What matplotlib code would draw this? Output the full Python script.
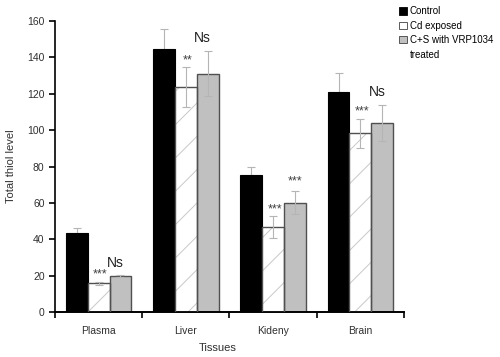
import numpy as np
import matplotlib
matplotlib.use("Agg")
import matplotlib.pyplot as plt
from matplotlib.patches import Patch
from matplotlib.ticker import FixedLocator

# Datos
tissues = ["Plasma", "Liver", "Kideny", "Brain"]
control = [43.6, 144.8, 75.4, 121.0]
control_err = [2.5, 11.0, 4.5, 10.7]
cd_exposed = [15.7, 123.7, 46.8, 98.4]
cd_err = [1.0, 11.0, 6.0, 8.0]
treated = [19.9, 131.1, 60.1, 104.0]
treated_err = [0.4, 12.5, 6.4, 10.0]
cd_marks = ["***", "**", "***", "***"]
treated_marks = ["Ns", "Ns", "***", "Ns"]

plt.rcParams['font.family'] = ['Liberation Sans', 'DejaVu Sans']
plt.rcParams['hatch.linewidth'] = 0.7
plt.rcParams['hatch.color'] = '#c8c8c8'

fig = plt.figure(figsize=(5, 3.57), dpi=100)
ax = fig.add_axes([0.11, 0.126, 0.698, 0.815])

x = np.arange(len(tissues))
w = 0.25
err_kw = dict(ecolor='#b5b5b5', elinewidth=0.8, capsize=3, capthick=0.8)

# Control: barra de error detras de la barra (solo se ve la parte superior)
ax.errorbar(x - w, control, yerr=control_err, fmt='none', zorder=1, **err_kw)
ax.bar(x - w, control, w, color='black', edgecolor='black', linewidth=0.8,
       zorder=2)

# Cd expuesto: relleno blanco con rayado claro
ax.bar(x, cd_exposed, w, color='white', edgecolor='#c8c8c8', linewidth=0,
       hatch='/', zorder=2)
ax.bar(x, cd_exposed, w, color='none', edgecolor='#505050', linewidth=1.0,
       yerr=cd_err, error_kw=err_kw, zorder=3)

# C+S con VRP1034
ax.bar(x + w, treated, w, color='#c0c0c0', edgecolor='#505050', linewidth=1.0,
       yerr=treated_err, error_kw=err_kw, zorder=2)

# Marcas de significancia
for i in range(len(tissues)):
    ax.text(x[i] + 0.02, cd_exposed[i] + cd_err[i] + 0.5, cd_marks[i],
            ha='center', va='bottom', fontsize=9, color='#404040')
    top = treated[i] + treated_err[i]
    if treated_marks[i] == "Ns":
        ax.text(x[i] + w - 0.06, top + 3, "Ns", ha='center', va='bottom',
                fontsize=10, color='#202020')
    else:
        ax.text(x[i] + w + 0.0, top + 2.0, treated_marks[i], ha='center',
                va='bottom', fontsize=9, color='#404040')

# Ejes
ax.set_xlim(-0.5, len(tissues) - 0.5)
ax.set_ylim(0, 160)
ax.set_yticks(np.arange(0, 161, 20))
ax.set_xticks(x)
ax.set_xticklabels(tissues, fontsize=7.5, color='#303030')
ax.xaxis.set_minor_locator(FixedLocator(np.arange(-0.5, len(tissues), 1.0)))
ax.tick_params(axis='x', which='major', length=0, pad=10)
ax.tick_params(axis='x', which='minor', length=4, width=1.2, direction='out')
ax.tick_params(axis='y', length=4, width=1.2, labelsize=7.5, labelcolor='#303030')

for side in ['top', 'right']:
    ax.spines[side].set_visible(False)
ax.spines['left'].set_linewidth(1.2)
ax.spines['bottom'].set_linewidth(1.4)

ax.set_ylabel("Total thiol level", fontsize=8, color='#303030', labelpad=8)
ax.set_xlabel("Tissues", fontsize=8, color='#303030')
ax.xaxis.set_label_coords(0.467, -0.105)

# Leyenda (la segunda linea del tercer rotulo sin simbolo)
handles = [Patch(facecolor='black', edgecolor='black', linewidth=0.6),
           Patch(facecolor='white', edgecolor='#404040', linewidth=0.6),
           Patch(facecolor='#c0c0c0', edgecolor='#404040', linewidth=0.6),
           Patch(facecolor='none', edgecolor='none')]
labels = ["Control", "Cd exposed", "C+S with VRP1034", "treated"]
fig.legend(handles, labels, loc='upper left', bbox_to_anchor=(0.79, 0.993),
           frameon=False, fontsize=7, handlelength=0.8, handleheight=0.8,
           handletextpad=0.3, labelspacing=0.45, borderaxespad=0)

plt.savefig("out.png", dpi=100)
